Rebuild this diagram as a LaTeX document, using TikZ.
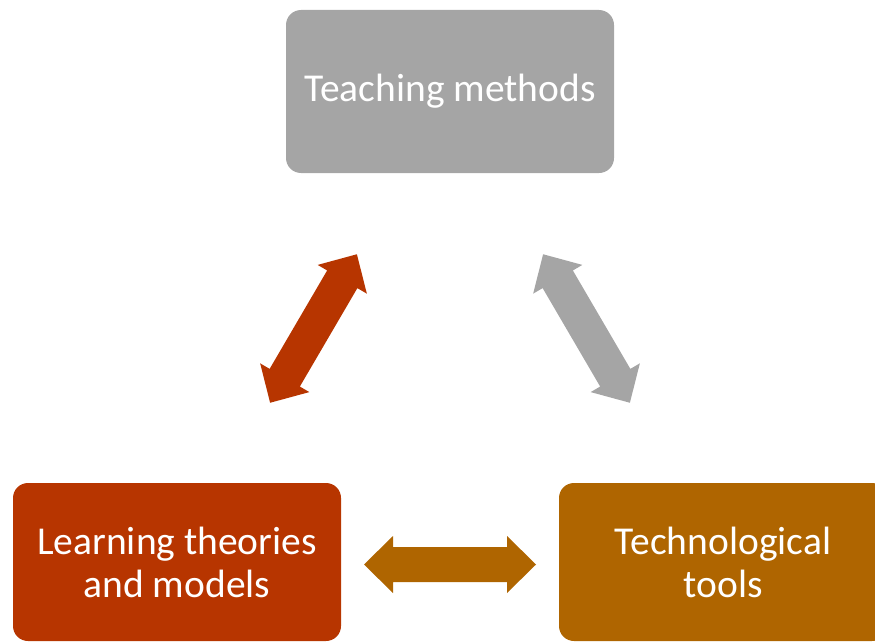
\documentclass[tikz,border=0pt]{standalone}
\usepackage{fontspec}
\setmainfont{Carlito}
\definecolor{cgray}{HTML}{A5A5A5}
\definecolor{cred}{HTML}{B73500}
\definecolor{cbrown}{HTML}{AF6500}
\newcommand\dblarrow[3]{%
\begin{scope}[shift={(#1)}, rotate=#2]
\fill[#3] (-86,0) -- (-57,28.5) -- (-57,17.5) -- (57,17.5) -- (57,28.5) -- (86,0)
 -- (57,-28.5) -- (57,-17.5) -- (-57,-17.5) -- (-57,-28.5) -- cycle;
\end{scope}}
\begin{document}
\begin{tikzpicture}[x=1pt,y=1pt,
  box/.style={rounded corners=15pt, minimum width=328pt, inner sep=0pt,
    text=white, align=center, font=\fontsize{39.5}{43}\selectfont}]
\useasboundingbox (0,0) rectangle (875,-642);
\node[box, fill=cgray, minimum height=163pt] (teach) at (450,-91.5) {Teaching methods};
\node[box, fill=cred, minimum height=158pt] (learn) at (177,-562) {Learning theories\\and models};
\node[box, fill=cbrown, minimum height=158pt] (tech) at (723,-562) {Technological\\tools};
\coordinate (al) at (313.5,-328.5);
\coordinate (ar) at (586.5,-328.5);
\coordinate (ab) at (450,-564.5);
\dblarrow{al}{59.7}{cred}
\dblarrow{ar}{-59.7}{cgray}
\dblarrow{ab}{0}{cbrown}
\end{tikzpicture}
\end{document}
